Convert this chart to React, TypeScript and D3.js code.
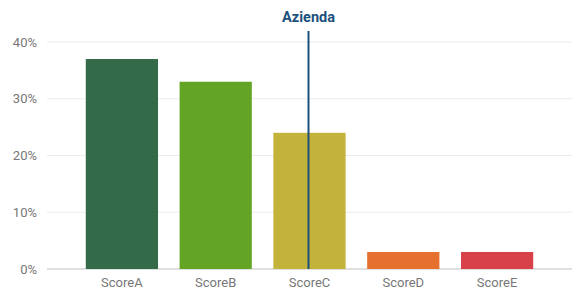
import React from 'react';
import * as d3 from 'd3';

const categories = ['ScoreA', 'ScoreB', 'ScoreC', 'ScoreD', 'ScoreE'];
const values = [0.37, 0.33, 0.24, 0.03, 0.03];
const colors = ['#336b48', '#64a425', '#c4b33a', '#e6702d', '#d8404a'];
const yTicks = [0, 0.1, 0.2, 0.3, 0.4];
const markerCategory = 'ScoreC';
const markerLabel = 'Azienda';

const width = 576;
const height = 291;

export default function App() {
  const x = d3.scaleBand<string>().domain(categories).range([75, 544]).paddingInner(0.23).paddingOuter(0.115);
  const y = d3.scaleLinear().domain([0, 0.4]).range([269, 42]);
  const fmt = d3.format('.0%');
  const mx = (x(markerCategory) ?? 0) + x.bandwidth() / 2 - 1;

  return (
    <svg width={width} height={height} style={{ position: 'absolute', left: 0, top: 0, fontFamily: 'Roboto, Arial, sans-serif' }}>
      <rect width={width} height={height} fill="#fff" />
      {yTicks.map(t => (
        <g key={t}>
          <line x1={47} x2={572} y1={y(t)} y2={y(t)} stroke={t === 0 ? '#d6d6d6' : '#ebebeb'} strokeWidth={t === 0 ? 1.5 : 1} />
          <text x={37} y={y(t)} dy="0.35em" textAnchor="end" fontSize={13} fill="#777">{fmt(t)}</text>
        </g>
      ))}
      {categories.map((c, i) => (
        <g key={c}>
          <rect x={x(c)} y={y(values[i])} width={x.bandwidth()} height={y(0) - y(values[i])} fill={colors[i]} />
          <text x={(x(c) ?? 0) + x.bandwidth() / 2} y={287} textAnchor="middle" fontSize={13} fill="#777">{c}</text>
        </g>
      ))}
      <line x1={mx} x2={mx} y1={31} y2={y(0)} stroke="#1d4f7c" strokeWidth={2} />
      <text x={mx} y={22} textAnchor="middle" fontSize={14.5} fontWeight="bold" fill="#1d4f7c">{markerLabel}</text>
    </svg>
  );
}
